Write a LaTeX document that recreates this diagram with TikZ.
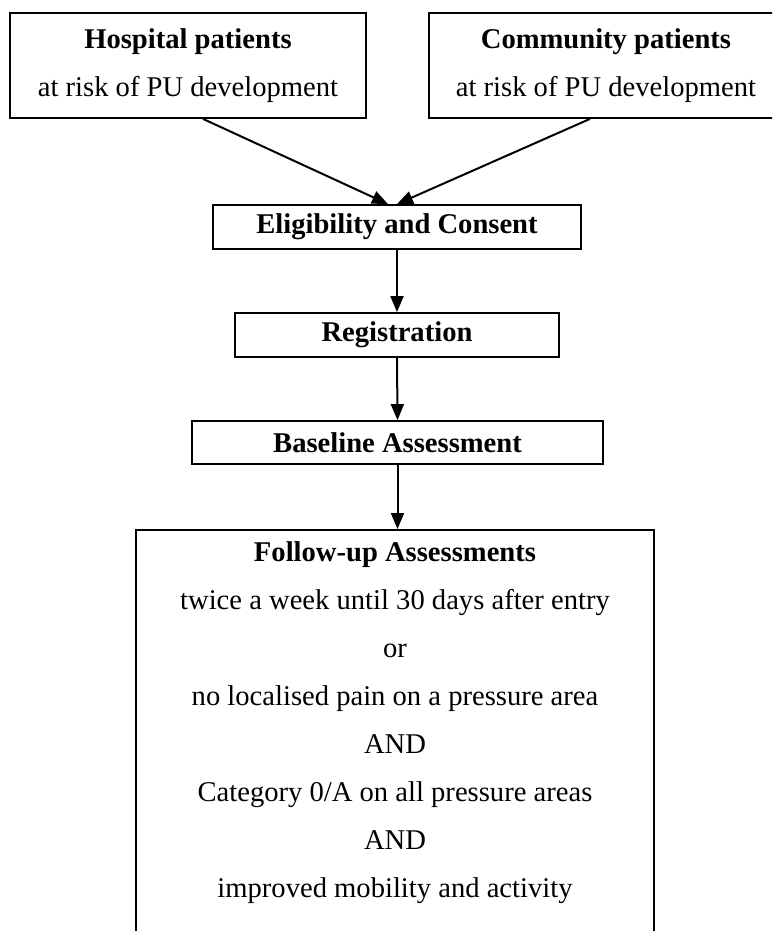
\documentclass[tikz,border=0pt]{standalone}
\usepackage{fontspec}
\setmainfont{Liberation Serif}
\usetikzlibrary{arrows.meta}

\begin{document}
\begin{tikzpicture}[x=0.5pt,y=-0.5pt,
  box/.style={draw=black,line width=0.9pt,inner sep=0pt,align=center,font=\fontsize{14.3}{24}\selectfont},
  arr/.style={line width=1pt,-{Triangle[length=8pt,width=6.5pt]}}]
\clip (0,0) rectangle (772,931);
\node[box,minimum width=178pt,minimum height=52.5pt] (hosp) at (188,65.5) {\textbf{Hospital patients}\\at risk of PU development};
\node[box,minimum width=177pt,minimum height=52.5pt] (comm) at (606,65.5) {\textbf{Community patients}\\at risk of PU development};
\node[box,minimum width=184pt,minimum height=22pt] (elig) at (397,227) {\textbf{Eligibility and Consent}};
\node[box,minimum width=162pt,minimum height=22pt] (reg) at (397,335) {\textbf{Registration}};
\node[box,minimum width=205.5pt,minimum height=21.5pt] (base) at (397.5,442.5) {\textbf{Baseline Assessment}};
\node[box,minimum width=259pt,minimum height=220pt,anchor=north] (follow) at (395,529) {};
\node[align=center,inner sep=0pt,font=\fontsize{14.3}{24}\selectfont] (followtxt) at (395,723) {\textbf{Follow-up Assessments}\\twice a week until 30 days after entry\\or\\no localised pain on a pressure area\\AND\\Category 0/A on all pressure areas\\AND\\improved mobility and activity};

\draw[arr] ([xshift=7.5pt]hosp.south) -- ([xshift=-4.5pt]elig.north);
\draw[arr] ([xshift=-8pt]comm.south) -- (elig.north);
\draw[arr] (elig.south) -- (reg.north);
\draw[arr] (reg.south) -- (base.north);
\draw[arr] (base.south) -- (base.south |- follow.north);

\end{tikzpicture}
\end{document}
